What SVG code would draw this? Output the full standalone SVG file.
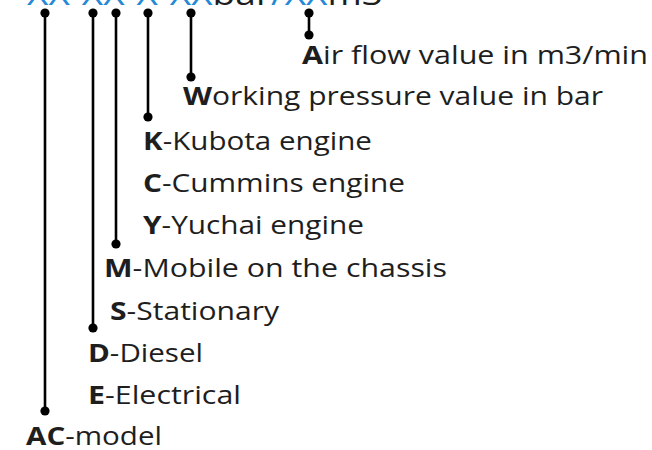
<svg xmlns="http://www.w3.org/2000/svg" width="652" height="450" viewBox="0 0 652 450">
<style>
  text { font-family: "Open Sans", "Noto Sans", "DejaVu Sans", sans-serif; fill: #1e1e1e; }
  .lbl { font-size: 25.6px; }
  .hdr { font-size: 31px; }
  .blue { fill: #2389d6; }
  .b { font-weight: bold; }
  .conn line { stroke: #000; stroke-width: 2.6; }
  .conn circle { fill: #000; }
</style>
<rect width="652" height="450" fill="#ffffff"/>
<g id="header">
  <text class="hdr" x="27" y="5" textLength="356" lengthAdjust="spacingAndGlyphs"><tspan class="blue">XX-XX-X-XX</tspan>bar<tspan class="blue">/XX</tspan>m3</text>
</g>
<g id="connectors" class="conn">
  <line x1="45" y1="13" x2="45" y2="411"/>
  <circle cx="45" cy="13" r="4.6"/><circle cx="45" cy="411" r="4.6"/>
  <line x1="93" y1="13" x2="93" y2="328"/>
  <circle cx="93" cy="13" r="4.6"/><circle cx="93" cy="328" r="4.6"/>
  <line x1="116" y1="13" x2="116" y2="244"/>
  <circle cx="116" cy="13" r="4.6"/><circle cx="116" cy="244" r="4.6"/>
  <line x1="148" y1="13" x2="148" y2="117"/>
  <circle cx="148" cy="13" r="4.6"/><circle cx="148" cy="117" r="4.6"/>
  <line x1="191" y1="13" x2="191" y2="77"/>
  <circle cx="191" cy="13" r="4.6"/><circle cx="191" cy="77" r="4.6"/>
  <line x1="309" y1="13" x2="309" y2="35"/>
  <circle cx="309" cy="13" r="4.6"/><circle cx="309" cy="35" r="4.6"/>
</g>
<g id="air"><text class="lbl" x="302" y="64" textLength="346" lengthAdjust="spacingAndGlyphs"><tspan class="b">A</tspan>ir flow value in m3/min</text></g>
<g id="working"><text class="lbl" x="183" y="105" textLength="420" lengthAdjust="spacingAndGlyphs"><tspan class="b">W</tspan>orking pressure value in bar</text></g>
<g id="kubota"><text class="lbl" x="143" y="150" textLength="229" lengthAdjust="spacingAndGlyphs"><tspan class="b">K</tspan>-Kubota engine</text></g>
<g id="cummins"><text class="lbl" x="143" y="192" textLength="262" lengthAdjust="spacingAndGlyphs"><tspan class="b">C</tspan>-Cummins engine</text></g>
<g id="yuchai"><text class="lbl" x="143" y="234" textLength="221" lengthAdjust="spacingAndGlyphs"><tspan class="b">Y</tspan>-Yuchai engine</text></g>
<g id="mobile"><text class="lbl" x="104" y="277" textLength="343" lengthAdjust="spacingAndGlyphs"><tspan class="b">M</tspan>-Mobile on the chassis</text></g>
<g id="stationary"><text class="lbl" x="110" y="320" textLength="169" lengthAdjust="spacingAndGlyphs"><tspan class="b">S</tspan>-Stationary</text></g>
<g id="diesel"><text class="lbl" x="88" y="362" textLength="115" lengthAdjust="spacingAndGlyphs"><tspan class="b">D</tspan>-Diesel</text></g>
<g id="electrical"><text class="lbl" x="88" y="404" textLength="153" lengthAdjust="spacingAndGlyphs"><tspan class="b">E</tspan>-Electrical</text></g>
<g id="acmodel"><text class="lbl" x="26" y="445" textLength="136" lengthAdjust="spacingAndGlyphs"><tspan class="b">AC</tspan>-model</text></g>
</svg>
